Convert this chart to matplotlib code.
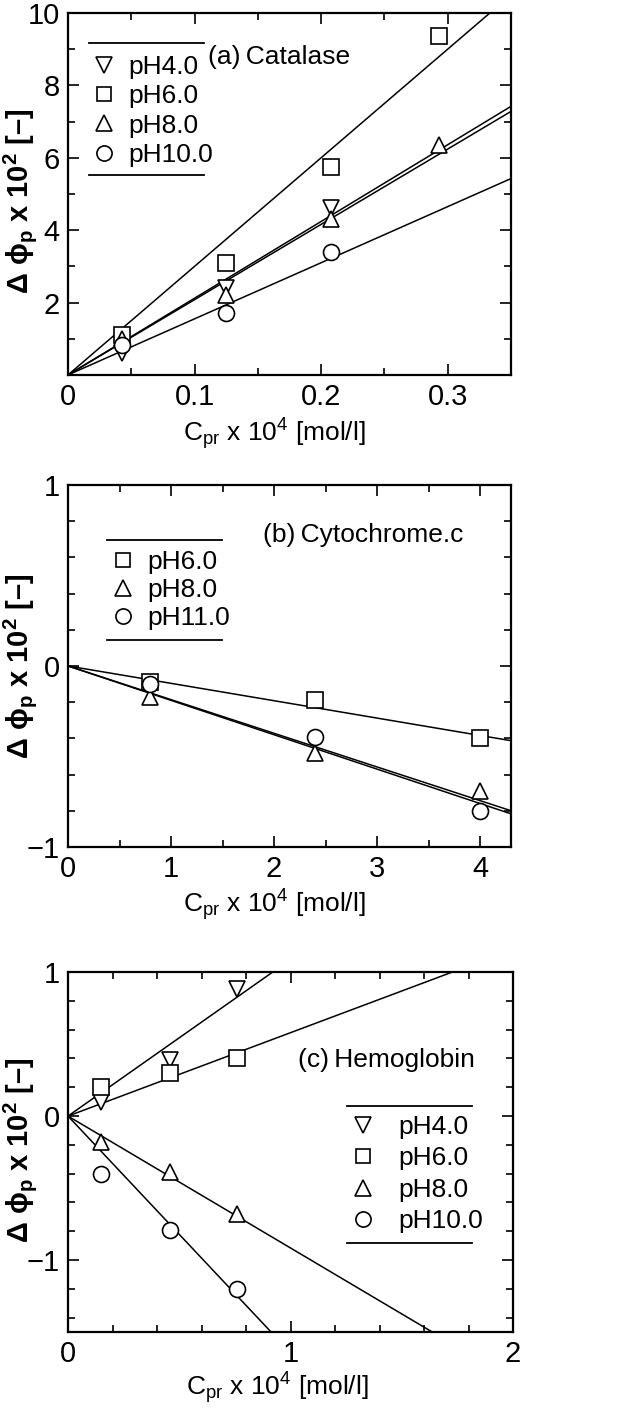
import numpy as np
import matplotlib.pyplot as plt
from matplotlib.ticker import MultipleLocator, FixedLocator

plt.rcParams['font.family'] = ['Liberation Sans', 'DejaVu Sans']
plt.rcParams['mathtext.fontset'] = 'custom'
plt.rcParams['mathtext.rm'] = 'Liberation Sans'
plt.rcParams['mathtext.it'] = 'Liberation Sans:italic'
plt.rcParams['mathtext.bf'] = 'Liberation Sans:bold'

# (a) Catalase
cat_labels = ['pH4.0', 'pH6.0', 'pH8.0', 'pH10.0']
cat_markers = ['v', 's', '^', 'o']
cat_x = [[0.043, 0.125, 0.208],
         [0.043, 0.125, 0.208, 0.293],
         [0.043, 0.125, 0.208, 0.293],
         [0.043, 0.125, 0.208]]
cat_y = [[0.6, 2.4, 4.6],
         [1.1, 3.1, 5.75, 9.35],
         [1.0, 2.2, 4.3, 6.35],
         [0.83, 1.7, 3.4]]
cat_slope = [21.2, 30.0, 20.8, 15.5]

# (b) Cytochrome c
cyt_labels = ['pH6.0', 'pH8.0', 'pH11.0']
cyt_markers = ['s', '^', 'o']
cyt_x = [[0.8, 2.4, 4.0], [0.8, 2.4, 4.0], [0.8, 2.4, 4.0]]
cyt_y = [[-0.09, -0.19, -0.40],
         [-0.17, -0.48, -0.69],
         [-0.10, -0.39, -0.80]]
cyt_slope = [-0.096, -0.190, -0.186]

# (c) Hemoglobin
hem_labels = ['pH4.0', 'pH6.0', 'pH8.0', 'pH10.0']
hem_markers = ['v', 's', '^', 'o']
hem_x = [[0.15, 0.46, 0.76]] * 4
hem_y = [[0.10, 0.39, 0.88],
         [0.20, 0.30, 0.40],
         [-0.18, -0.39, -0.68],
         [-0.40, -0.79, -1.20]]
hem_slope = [1.087, 0.579, -0.916, -1.643]

xlabel = r'C$_{\mathrm{pr}}$ x 10$^{4}$ [mol/l]'
ylabel = r'Δ ϕ$_{\mathbf{p}}$ x 10$^{\mathbf{2}}$ [–]'
marker_size = {'v': 12, '^': 12, 's': 11, 'o': 11.5}

fig = plt.figure(figsize=(6.25, 14.09), dpi=100)


def draw_panel(ax, xs, ys, slopes, markers, labels, xlim, ylim, ylab_y, xlab_y):
    handles = []
    for x, y, m, lab in zip(xs, ys, markers, labels):
        h, = ax.plot(x, y, ls='none', marker=m, ms=marker_size[m],
                     mfc='white', mec='black', mew=1.2, label=lab, zorder=3)
        handles.append(h)
    xx = np.array([0, xlim[1]])
    for s in slopes:
        ax.plot(xx, s * xx, color='black', lw=1.1, zorder=2)
    ax.set_xlim(*xlim)
    ax.set_ylim(*ylim)
    ax.tick_params(which='both', direction='in', top=True, right=True,
                   labelsize=21, width=1.2)
    ax.tick_params(which='major', length=8, pad=6)
    ax.tick_params(which='minor', length=5)
    for sp in ax.spines.values():
        sp.set_linewidth(1.6)
    ax.set_xlabel(xlabel, fontsize=19)
    ax.xaxis.set_label_coords(0.465, xlab_y)
    ax.set_ylabel(ylabel, fontsize=21, fontweight='bold')
    ax.yaxis.set_label_coords(-0.066, ylab_y)
    return handles


def draw_legend(ax, handles, x0, x1, ytop, ybot, lx, ly, spacing, textpad):
    ax.legend(handles=handles, loc='upper left', bbox_to_anchor=(lx, ly),
              frameon=False, fontsize=19, markerscale=0.95,
              handlelength=1.0, handletextpad=textpad,
              labelspacing=spacing, borderaxespad=0, borderpad=0)
    for yy in (ytop, ybot):
        ax.plot([x0, x1], [yy, yy], transform=ax.transAxes, color='black',
                lw=1.3, clip_on=False)


# panel (a)
ax1 = fig.add_axes([0.1088, 0.7339, 0.7088, 0.2569])
h = draw_panel(ax1, cat_x, cat_y, cat_slope, cat_markers, cat_labels,
               (0, 0.35), (0, 10), 0.48, -0.115)
ax1.xaxis.set_major_locator(FixedLocator([0, 0.1, 0.2, 0.3]))
ax1.xaxis.set_minor_locator(MultipleLocator(0.05))
ax1.set_xticklabels(['0', '0.1', '0.2', '0.3'])
ax1.yaxis.set_major_locator(FixedLocator([2, 4, 6, 8, 10]))
ax1.yaxis.set_minor_locator(MultipleLocator(1))
draw_legend(ax1, h, 0.047, 0.307, 0.917, 0.552, 0.052, 0.884, 0.2, 0.4)
ax1.text(0.316, 0.878, '(a)\u2009Catalase', transform=ax1.transAxes,
         fontsize=19, va='center', ha='left')

# panel (b)
ax2 = fig.add_axes([0.1088, 0.3989, 0.7088, 0.2569])
h = draw_panel(ax2, cyt_x, cyt_y, cyt_slope, cyt_markers, cyt_labels,
               (0, 4.3), (-1, 1), 0.50, -0.11)
ax2.xaxis.set_major_locator(MultipleLocator(1))
ax2.xaxis.set_minor_locator(MultipleLocator(0.5))
ax2.yaxis.set_minor_locator(MultipleLocator(0.2))
ax2.set_yticks([-1, 0, 1])
ax2.set_yticklabels(['\u22121', '0', '1'])
draw_legend(ax2, h, 0.088, 0.347, 0.848, 0.572, 0.095, 0.820, 0.15, 0.4)
ax2.text(0.44, 0.862, '(b)\u2009Cytochrome.c', transform=ax2.transAxes,
         fontsize=19, va='center', ha='left')

# panel (c)
ax3 = fig.add_axes([0.1088, 0.0546, 0.712, 0.2555])
h = draw_panel(ax3, hem_x, hem_y, hem_slope, hem_markers, hem_labels,
               (0, 2), (-1.5, 1), 0.505, -0.105)
ax3.xaxis.set_major_locator(MultipleLocator(1))
ax3.xaxis.set_minor_locator(MultipleLocator(0.2))
ax3.set_yticks([-1, 0, 1])
ax3.set_yticklabels(['\u22121', '0', '1'])
ax3.yaxis.set_minor_locator(MultipleLocator(0.2))
ax3.xaxis.set_label_coords(0.47, -0.105)
draw_legend(ax3, h, 0.627, 0.908, 0.628, 0.247, 0.634, 0.603, 0.28, 0.82)
ax3.text(0.517, 0.756, '(c)\u2009Hemoglobin', transform=ax3.transAxes,
         fontsize=19, va='center', ha='left')

fig.savefig('out.png', dpi=100)
